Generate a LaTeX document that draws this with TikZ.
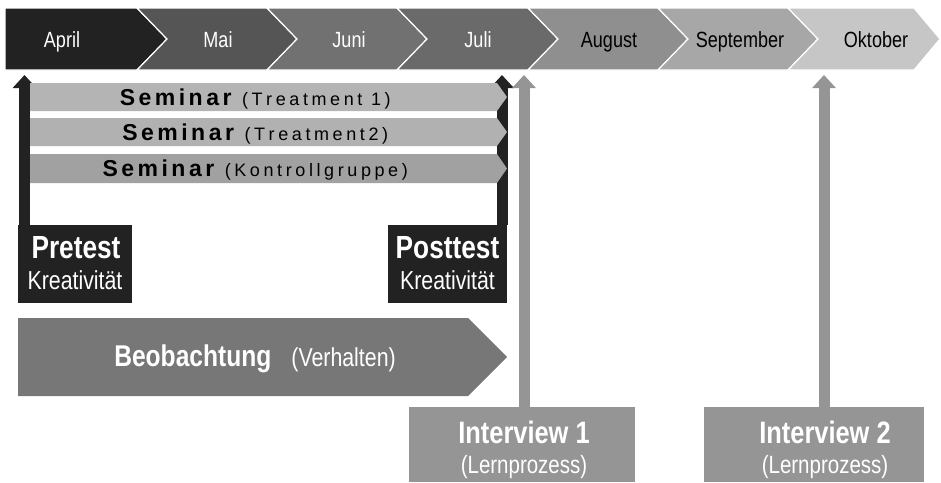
\documentclass[tikz,border=0pt]{standalone}
\usepackage{fontspec}
\setmainfont{Liberation Sans}[FakeStretch=0.82]
\newfontfamily\semfont{Liberation Sans}
\usetikzlibrary{arrows.meta}

\definecolor{ink}{HTML}{222222}
\definecolor{mAp}{HTML}{222222}
\definecolor{mMa}{HTML}{555555}
\definecolor{mJn}{HTML}{717171}
\definecolor{mJl}{HTML}{6A6A6A}
\definecolor{mAu}{HTML}{8F8F8F}
\definecolor{mSe}{HTML}{A7A7A7}
\definecolor{mOk}{HTML}{C6C6C6}
\definecolor{semA}{HTML}{B4B4B4}
\definecolor{semB}{HTML}{B1B1B1}
\definecolor{semC}{HTML}{A1A1A1}
\definecolor{beob}{HTML}{777777}
\definecolor{intv}{HTML}{959595}

% tracked word: a fixed gap after every character
\makeatletter
\newcommand\trk[2]{\@tfor\trk@c:=#2\do{\trk@c\kern#1}}
\makeatother
\newcommand\semtitle{{\semfont\bfseries\fontsize{23}{23}\selectfont\trk{3.5pt}{Seminar}}\hspace{7pt}}
\newcommand\semnote[1]{{\semfont\fontsize{18}{18}\selectfont#1}}

\begin{document}
\begin{tikzpicture}[x=1pt,y=-1pt,
  chev/.style={draw=white,line width=1.2pt},
  month/.style={anchor=base,inner sep=0pt,font=\fontsize{22}{22}\selectfont},
  semtext/.style={anchor=base,inner sep=0pt,text=black},
  testbox/.style={fill=ink,inner sep=0pt,minimum height=78pt},
  bigbold/.style={anchor=base,inner sep=0pt,text=white,font=\bfseries\fontsize{32}{32}\selectfont},
  subtext/.style={anchor=base,inner sep=0pt,text=white,font=\fontsize{26}{26}\selectfont},
  intbox/.style={fill=intv,inner sep=0pt,minimum height=75pt},
  blackarr/.style={draw=ink,line width=11pt,-{Triangle[width=23pt,length=13pt]}},
  grayarr/.style={draw=intv,line width=11pt,-{Triangle[width=23pt,length=13pt]}},
]
\useasboundingbox (0,0) rectangle (941,482);

% month chevrons
\fill[mAp,chev] (5,8) -- (137,8) -- (167,39) -- (137,70) -- (5,70) -- cycle;
\fill[mMa,chev] (137,8) -- (267,8) -- (297,39) -- (267,70) -- (137,70) -- (167,39) -- cycle;
\fill[mJn,chev] (267,8) -- (397,8) -- (427,39) -- (397,70) -- (267,70) -- (297,39) -- cycle;
\fill[mJl,chev] (397,8) -- (528,8) -- (558,39) -- (528,70) -- (397,70) -- (427,39) -- cycle;
\fill[mAu,chev] (528,8) -- (658,8) -- (688,39) -- (658,70) -- (528,70) -- (558,39) -- cycle;
\fill[mSe,chev] (658,8) -- (788,8) -- (818,39) -- (788,70) -- (658,70) -- (688,39) -- cycle;
\fill[mOk,chev] (788,8) -- (914,8) -- (940,39) -- (914,70) -- (788,70) -- (818,39) -- cycle;

\node[month,text=white] (apr) at (62,47) {April};
\node[month,text=white] (mai) at (218,47) {Mai};
\node[month,text=white] (jun) at (349,47) {Juni};
\node[month,text=white] (jul) at (478,47) {Juli};
\node[month,text=black] (aug) at (609,47) {August};
\node[month,text=black] (sep) at (740,47) {September};
\node[month,text=black] (okt) at (876,47) {Oktober};

% pretest / posttest boxes and their arrows
\node[testbox,minimum width=114pt] (pre) at (75,264) {};
\node[testbox,minimum width=119pt] (post) at (447.5,264) {};
\coordinate (preTip) at (24.5,75);
\coordinate (postTip) at (502,75);
\draw[blackarr] (pre.north -| preTip) -- (preTip);
\draw[blackarr] (post.north -| postTip) -- (postTip);

\node[bigbold] (preT) at (76,258) {Pretest};
\node[subtext] (preK) at (75,289) {Kreativität};
\node[bigbold] (postT) at (447.5,258) {Posttest};
\node[subtext] (postK) at (447.5,289) {Kreativität};

% seminar bars
\fill[semA] (30,83) -- (497,83) -- (507,97) -- (497,111) -- (30,111) -- cycle;
\fill[semB] (30,118) -- (497,118) -- (507,132) -- (497,146) -- (30,146) -- cycle;
\fill[semC] (30,154) -- (497,154) -- (507,168.5) -- (497,183) -- (30,183) -- cycle;
\node[semtext] (s1) at (257,105)
  {\semtitle\semnote{\trk{3.6pt}{(Treatment}\hspace{5pt}\trk{3.6pt}{1)}}};
\node[semtext] (s2) at (257,140)
  {\semtitle\semnote{\trk{3.6pt}{(Treatment2)}}};
\node[semtext] (s3) at (257,176.5)
  {\semtitle\semnote{\trk{3.6pt}{(Kontrollgruppe)}}};

% observation arrow
\fill[beob] (18,318) -- (468,318) -- (507,357) -- (468,396) -- (18,396) -- cycle;
\node[anchor=base,inner sep=0pt,text=white] (beo) at (255,366)
  {{\bfseries\fontsize{30}{30}\selectfont Beobachtung}\hspace{20pt}{\fontsize{26}{26}\selectfont(Verhalten)}};

% interviews
\node[intbox,minimum width=226pt] (int1) at (522,444.5) {};
\node[intbox,minimum width=220pt] (int2) at (814,444.5) {};
\coordinate (i1Tip) at (524,75);
\coordinate (i2Tip) at (824,75);
\draw[grayarr] (int1.north -| i1Tip) -- (i1Tip);
\draw[grayarr] (int2.north -| i2Tip) -- (i2Tip);
\node[bigbold,font=\bfseries\fontsize{31}{31}\selectfont] (i1a) at (524,443) {Interview 1};
\node[subtext,font=\fontsize{25}{25}\selectfont] (i1b) at (524,473) {(Lernprozess)};
\node[bigbold,font=\bfseries\fontsize{31}{31}\selectfont] (i2a) at (825,443) {Interview 2};
\node[subtext,font=\fontsize{25}{25}\selectfont] (i2b) at (825,473) {(Lernprozess)};
\end{tikzpicture}
\end{document}
